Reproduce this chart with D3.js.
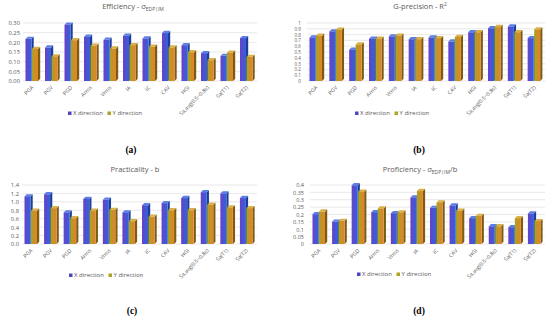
<!DOCTYPE html>
<html>
<head>
<meta charset="utf-8">
<script src="https://cdn.jsdelivr.net/npm/d3@7"></script>
<style>
  body { margin: 0; background: #fff; }
  svg { font-family: "Open Sans", sans-serif; }
  .tick text { fill: #595959; }
  .title { fill: #595959; }
  .panel-label { font-family: "Liberation Serif", serif; font-weight: bold; fill: #000; }
</style>
</head>
<body>
<svg width="550" height="322"></svg>
<script>
const categories = ["PGA", "PGV", "PGD", "Arms", "Vrms", "IA", "IC", "CAV", "HGI", "Sa,avg(0.5~0.8s)", "Sa(T1)", "Sa(T2)"]
const seriesNames = ["X direction", "Y direction"]

const efficiencyX = [0.218, 0.173, 0.291, 0.229, 0.213, 0.234, 0.220, 0.248, 0.185, 0.144, 0.130, 0.222]
const efficiencyY = [0.166, 0.127, 0.211, 0.182, 0.168, 0.185, 0.178, 0.173, 0.149, 0.107, 0.147, 0.125]
const efficiencyTicks = [0, 0.05, 0.10, 0.15, 0.20, 0.25, 0.30]

const precisionX = [0.75, 0.855, 0.54, 0.73, 0.77, 0.72, 0.75, 0.68, 0.84, 0.91, 0.94, 0.74]
const precisionY = [0.78, 0.885, 0.63, 0.73, 0.78, 0.72, 0.74, 0.76, 0.84, 0.93, 0.84, 0.89]
const precisionTicks = [0, 0.1, 0.2, 0.3, 0.4, 0.5, 0.6, 0.7, 0.8, 0.9, 1]

const practicalityX = [1.13, 1.18, 0.75, 1.07, 1.05, 0.75, 0.92, 0.97, 1.09, 1.23, 1.20, 1.09]
const practicalityY = [0.79, 0.85, 0.61, 0.79, 0.81, 0.54, 0.65, 0.80, 0.80, 0.93, 0.87, 0.85]
const practicalityTicks = [0, 0.2, 0.4, 0.6, 0.8, 1.0, 1.2, 1.4]

const proficiencyX = [0.202, 0.152, 0.398, 0.216, 0.209, 0.316, 0.245, 0.261, 0.175, 0.120, 0.114, 0.207]
const proficiencyY = [0.220, 0.157, 0.355, 0.241, 0.214, 0.359, 0.282, 0.225, 0.191, 0.120, 0.175, 0.155]
const proficiencyTicks = [0, 0.05, 0.1, 0.15, 0.2, 0.25, 0.3, 0.35, 0.4]

const svg = d3.select("svg")

// gradients for the two series (front faces)
const defs = svg.append("defs")
const gx = defs.append("linearGradient").attr("id", "gradX")
gx.append("stop").attr("offset", "0%").attr("stop-color", "#6a40c8")
gx.append("stop").attr("offset", "100%").attr("stop-color", "#2f64da")
const gy = defs.append("linearGradient").attr("id", "gradY")
gy.append("stop").attr("offset", "0%").attr("stop-color", "#a7a322")
gy.append("stop").attr("offset", "100%").attr("stop-color", "#e6812a")

const frontFill = ["url(#gradX)", "url(#gradY)"]
const sideFill = ["#1f3c96", "#7d5c12"]
const topFill = ["#5a7fe6", "#d8b043"]
const legendColor = ["#4a47c0", "#b0a226"]

function drawPanel(p) {
    const g = svg.append("g")

    const x = d3.scaleBand()
        .domain(categories)
        .range([p.x0, p.x1])

    const y = d3.scaleLinear()
        .domain([0, p.max])
        .range([p.yBottom, p.yTop])

    // gridlines
    g.append("g")
        .selectAll("line")
        .data(p.ticks)
        .enter()
        .append("line")
        .attr("x1", p.x0)
        .attr("x2", p.x1)
        .attr("y1", d => y(d))
        .attr("y2", d => y(d))
        .attr("stroke", "#e3e3e3")
        .attr("stroke-width", 0.8)

    // y axis labels
    const yAxis = g.append("g")
        .attr("transform", `translate(${p.labelX}, 0)`)
        .call(d3.axisLeft(y).tickValues(p.ticks).tickFormat(p.fmt).tickSize(0).tickPadding(0))
    yAxis.select(".domain").remove()
    yAxis.selectAll("text").attr("font-size", p.tickSize).attr("font-family", "Open Sans")

    // bars
    const bw = 6, depth = 2.2
    const series = [p.xs, p.ys]
    series.forEach((vals, s) => {
        const bars = g.append("g")
            .selectAll("g.bar")
            .data(vals)
            .enter()
            .append("g")
            .attr("class", "bar")
        const bx = (d, i) => x(categories[i]) + 2.5 + s * 6.5
        bars.append("path")
            .attr("d", (d, i) => {
                const l = bx(d, i) + bw, t = y(d), b = y(0)
                return `M${l},${t}L${l + depth},${t - depth}L${l + depth},${b - depth}L${l},${b}Z`
            })
            .attr("fill", sideFill[s])
        bars.append("path")
            .attr("d", (d, i) => {
                const l = bx(d, i), t = y(d)
                return `M${l},${t}L${l + depth},${t - depth}L${l + bw + depth},${t - depth}L${l + bw},${t}Z`
            })
            .attr("fill", topFill[s])
        bars.append("rect")
            .attr("x", bx)
            .attr("y", d => y(d))
            .attr("width", bw)
            .attr("height", d => y(0) - y(d))
            .attr("fill", frontFill[s])
    })

    // category labels
    g.append("g")
        .selectAll("text")
        .data(categories)
        .enter()
        .append("text")
        .attr("transform", d => `translate(${x(d) + x.bandwidth() / 2 + 1}, ${p.yBottom + 7}) rotate(-45)`)
        .attr("text-anchor", "end")
        .attr("font-size", 5.3)
        .attr("fill", "#595959")
        .text(d => d)

    // title
    const title = g.append("text")
        .attr("class", "title")
        .attr("x", p.titleX)
        .attr("y", p.titleY)
        .attr("text-anchor", "middle")
        .attr("font-size", 7.5)
    p.title.forEach(part => {
        const t = title.append("tspan").text(part.text)
        if (part.sub) t.attr("font-size", 5).attr("dy", 1.5)
        if (part.sup) t.attr("font-size", 5).attr("dy", -3)
        if (part.back) t.attr("dy", part.back)
    })

    // legend
    const leg = g.append("g")
        .selectAll("g")
        .data(seriesNames)
        .enter()
        .append("g")
        .attr("transform", (d, i) => `translate(${p.legendX + i * 39.5}, ${p.legendY})`)
    leg.append("rect")
        .attr("x", 0)
        .attr("y", -3.5)
        .attr("width", 3.5)
        .attr("height", 3.5)
        .attr("fill", (d, i) => legendColor[i])
    leg.append("text")
        .attr("x", 5)
        .attr("y", 0)
        .attr("font-size", 6)
        .attr("fill", "#595959")
        .text(d => d)

    // panel label
    g.append("text")
        .attr("class", "panel-label")
        .attr("x", p.tagX)
        .attr("y", p.tagY)
        .attr("text-anchor", "middle")
        .attr("font-size", 9.5)
        .text(p.tag)
}

drawPanel({
    xs: efficiencyX, ys: efficiencyY, ticks: efficiencyTicks, max: 0.30, fmt: d3.format(".2f"), tickSize: 5.8,
    x0: 23, x1: 257, yTop: 23, yBottom: 81, labelX: 20,
    title: [{ text: "Efficiency - σ" }, { text: "EDP|IM", sub: true }],
    titleX: 133, titleY: 9, legendX: 68, legendY: 115, tag: "(a)", tagX: 131, tagY: 153
})

drawPanel({
    xs: precisionX, ys: precisionY, ticks: precisionTicks, max: 1, fmt: d => d3.format("~g")(d), tickSize: 4.6,
    x0: 307, x1: 545, yTop: 23, yBottom: 81, labelX: 301,
    title: [{ text: "G-precision - R" }, { text: "2", sup: true }],
    titleX: 420, titleY: 9, legendX: 355, legendY: 115, tag: "(b)", tagX: 419, tagY: 153
})

drawPanel({
    xs: practicalityX, ys: practicalityY, ticks: practicalityTicks, max: 1.4, fmt: d3.format(".1f"), tickSize: 5.8,
    x0: 22, x1: 257, yTop: 185, yBottom: 244, labelX: 19,
    title: [{ text: "Practicality - b" }],
    titleX: 135, titleY: 172, legendX: 69, legendY: 277, tag: "(c)", tagX: 132, tagY: 314
})

drawPanel({
    xs: proficiencyX, ys: proficiencyY, ticks: proficiencyTicks, max: 0.4, fmt: d => d3.format("~g")(d), tickSize: 5.5,
    x0: 310, x1: 545, yTop: 185, yBottom: 244, labelX: 304,
    title: [{ text: "Proficiency - σ" }, { text: "EDP|IM", sub: true }, { text: "/b", back: -1.5 }],
    titleX: 420, titleY: 172, legendX: 357, legendY: 276, tag: "(d)", tagX: 419, tagY: 314
})
</script>
</body>
</html>
